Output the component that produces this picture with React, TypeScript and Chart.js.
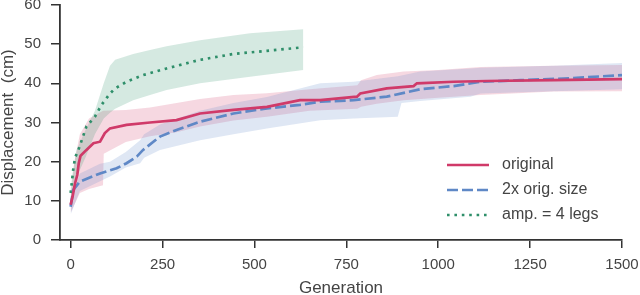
import React, { useEffect, useRef } from "react";
import { Chart, registerables } from "chart.js";

Chart.register(...registerables);

// ---- data ----
const xTickValues = [0, 250, 500, 750, 1000, 1250, 1500];
const yTickValues = [0, 10, 20, 30, 40, 50, 60];

const seriesLabels = ["original", "2x orig. size", "amp. = 4 legs"];

// original (red, solid)
const origGen = [0, 5, 12, 18, 22, 27, 43, 62, 80, 93, 107, 152, 216, 288, 352, 443, 534, 624, 679, 779, 788, 860, 933, 942, 1042, 1133, 1314, 1500];
const origMean = [9, 11, 14.5, 16.6, 19.6, 21.5, 23, 24.7, 25.1, 27.3, 28.5, 29.4, 30, 30.6, 32.3, 33.2, 34, 35.7, 35.7, 36.6, 37.4, 38.7, 39.3, 40, 40.4, 40.6, 40.8, 41.1];
const origBandGen = [0, 10, 25, 50, 88, 90, 150, 216, 288, 352, 443, 534, 650, 780, 790, 833, 906, 1000, 1115, 1314, 1500];
const origLow = [7, 9, 12, 13, 14, 22, 25, 26.5, 27.5, 29, 30.5, 31.5, 33, 33.5, 34, 34.8, 35.7, 36.3, 37, 37.9, 38];
const origHigh = [11, 20, 27, 31, 33, 33, 33.2, 33.8, 35, 36, 37, 37.5, 38.5, 39.5, 40.8, 42.1, 43, 43.4, 44.2, 44.5, 44.7];

// 2x orig. size (blue, dashed)
const bigGen = [0, 7, 25, 80, 125, 152, 180, 197, 243, 288, 352, 443, 534, 624, 679, 770, 860, 951, 1042, 1115, 1224, 1360, 1500];
const bigMean = [8.5, 12.8, 14.9, 17, 18.3, 19.6, 21.3, 23, 26.4, 28.1, 30.2, 32.3, 33.6, 34.5, 35.3, 35.7, 36.6, 38.5, 39.3, 40.4, 40.8, 41.3, 42.1];
const bigBandGen = [0, 25, 80, 107, 150, 189, 200, 243, 352, 443, 534, 679, 770, 890, 900, 951, 1088, 1115, 1314, 1500];
const bigLow = [6.5, 12.5, 15, 16.2, 18.5, 19.6, 21, 23, 25.5, 27, 28.5, 30.6, 31, 31.5, 35, 35.5, 36.6, 37.4, 38, 38.5];
const bigHigh = [10.5, 17, 19.5, 20, 22.5, 25.5, 27, 29.5, 33, 35, 36.5, 40, 40.4, 41.8, 42, 43, 43.8, 44, 44.5, 45.2];

// amp. = 4 legs (green, dotted)
const ampGen = [0, 3, 7, 12, 21, 43, 66, 84, 107, 121, 152, 197, 261, 352, 443, 534, 633];
const ampMean = [12, 14.5, 18, 21, 23, 29, 31.5, 34.5, 37.4, 38.7, 40.4, 42.1, 43.8, 46, 47.5, 48.3, 49.2];
const ampBandGen = [0, 5, 16, 40, 66, 90, 107, 121, 170, 216, 261, 352, 488, 633];
const ampLow = [10, 12, 16, 21, 27, 31, 32.5, 33.5, 35.7, 37, 38.3, 40, 41.7, 43.4];
const ampHigh = [13, 17, 23, 28, 33, 40, 44.5, 46, 47.5, 48.5, 49.5, 51, 52.8, 53.8];

// ---- styles ----
const RED = "#d03a69";
const BLUE = "#5f88c6";
const GREEN = "#2f8f6a";
const RED_BAND = "rgba(208,58,105,0.2)";
const BLUE_BAND = "rgba(95,136,198,0.2)";
const GREEN_BAND = "rgba(47,143,106,0.2)";
const FONT = "'Liberation Sans', Arial, sans-serif";
const AXIS_COLOR = "#333333";
const TEXT_COLOR = "#444444";

const pts = (xs: number[], ys: number[]) => xs.map((x, i) => ({ x, y: ys[i] }));

const legendPlugin = {
  id: "customLegend",
  afterDraw(chart: any) {
    const ctx = chart.ctx;
    const items = [
      { label: seriesLabels[0], color: RED, dash: [] as number[] },
      { label: seriesLabels[1], color: BLUE, dash: [11, 4] },
      { label: seriesLabels[2], color: GREEN, dash: [2.6, 4.8] },
    ];
    const x0 = 447, x1 = 489, tx = 502;
    const ys = [165, 190, 215];
    ctx.save();
    items.forEach((it, i) => {
      ctx.beginPath();
      ctx.setLineDash(it.dash);
      ctx.lineCap = "butt";
      ctx.lineWidth = 2.7;
      ctx.strokeStyle = it.color;
      ctx.moveTo(x0, ys[i]);
      ctx.lineTo(x1, ys[i]);
      ctx.stroke();
      ctx.setLineDash([]);
      ctx.fillStyle = TEXT_COLOR;
      ctx.font = `16px ${FONT}`;
      ctx.textBaseline = "middle";
      ctx.textAlign = "left";
      ctx.fillText(it.label, tx, ys[i]);
    });
    ctx.restore();
  },
};

export default function App() {
  const ref = useRef<HTMLCanvasElement | null>(null);
  useEffect(() => {
    if (!ref.current) return;
    const bandBase = { borderWidth: 0, pointRadius: 0, tension: 0 };
    const chart = new Chart(ref.current, {
      type: "line",
      data: {
        datasets: [
          { label: seriesLabels[0], data: pts(origGen, origMean), borderColor: RED, borderWidth: 2.7, pointRadius: 0, fill: false, order: 0 },
          { label: seriesLabels[1], data: pts(bigGen, bigMean), borderColor: BLUE, borderWidth: 2.7, borderDash: [11, 4], pointRadius: 0, fill: false, order: 1 },
          { label: seriesLabels[2], data: pts(ampGen, ampMean), borderColor: GREEN, borderWidth: 2.7, borderDash: [2.6, 4.8], pointRadius: 0, fill: false, order: 2 },
          { label: "oh", data: pts(origBandGen, origHigh), backgroundColor: RED_BAND, fill: "+1", order: 12, ...bandBase },
          { label: "ol", data: pts(origBandGen, origLow), fill: false, order: 13, ...bandBase },
          { label: "bh", data: pts(bigBandGen, bigHigh), backgroundColor: BLUE_BAND, fill: "+1", order: 11, ...bandBase },
          { label: "bl", data: pts(bigBandGen, bigLow), fill: false, order: 11, ...bandBase },
          { label: "ah", data: pts(ampBandGen, ampHigh), backgroundColor: GREEN_BAND, fill: "+1", order: 10, ...bandBase },
          { label: "al", data: pts(ampBandGen, ampLow), fill: false, order: 10, ...bandBase },
        ] as any,
      },
      options: {
        responsive: false,
        animation: false,
        layout: { padding: { top: 5, right: 18, left: 0, bottom: 0 } },
        plugins: { legend: { display: false }, tooltip: { enabled: false } },
        scales: {
          x: {
            type: "linear",
            min: -29,
            max: 1500,
            afterBuildTicks: (scale: any) => {
              scale.ticks = xTickValues.map((v) => ({ value: v }));
            },
            afterFit: (scale: any) => {
              scale.height = 55;
              scale.paddingLeft = 0;
              scale.paddingRight = 0;
            },
            grid: { display: true, drawOnChartArea: false, drawTicks: true, tickLength: 8, color: AXIS_COLOR, lineWidth: 1.5 },
            border: { display: true, color: AXIS_COLOR, width: 1.8 },
            ticks: { font: { size: 15, family: FONT }, color: TEXT_COLOR, padding: 8, maxRotation: 0, callback: (v: any) => String(v) },
            title: { display: true, text: "Generation", font: { size: 17, family: FONT, lineHeight: 1 }, color: TEXT_COLOR, padding: { top: 0, bottom: -2 } },
          },
          y: {
            type: "linear",
            min: 0,
            max: 60,
            afterBuildTicks: (scale: any) => {
              scale.ticks = yTickValues.map((v) => ({ value: v }));
            },
            afterFit: (scale: any) => {
              scale.width = 60;
              scale.paddingTop = 0;
              scale.paddingBottom = 0;
            },
            grid: { display: true, drawOnChartArea: false, drawTicks: true, tickLength: 9, color: AXIS_COLOR, lineWidth: 1.5 },
            border: { display: true, color: AXIS_COLOR, width: 1.8 },
            ticks: { font: { size: 15, family: FONT }, color: TEXT_COLOR, padding: 10, callback: (v: any) => String(v) },
            title: { display: true, text: "Displacement  (cm)", font: { size: 17, family: FONT, lineHeight: 1 }, color: TEXT_COLOR, padding: { top: 0, bottom: 0 } },
          },
        },
      },
      plugins: [legendPlugin],
    });
    return () => chart.destroy();
  }, []);
  return (
    <div style={{ position: "absolute", left: 0, top: 0, width: 640, height: 295, background: "#fff" }}>
      <canvas ref={ref} width={640} height={295} style={{ display: "block", width: 640, height: 295 }} />
    </div>
  );
}
